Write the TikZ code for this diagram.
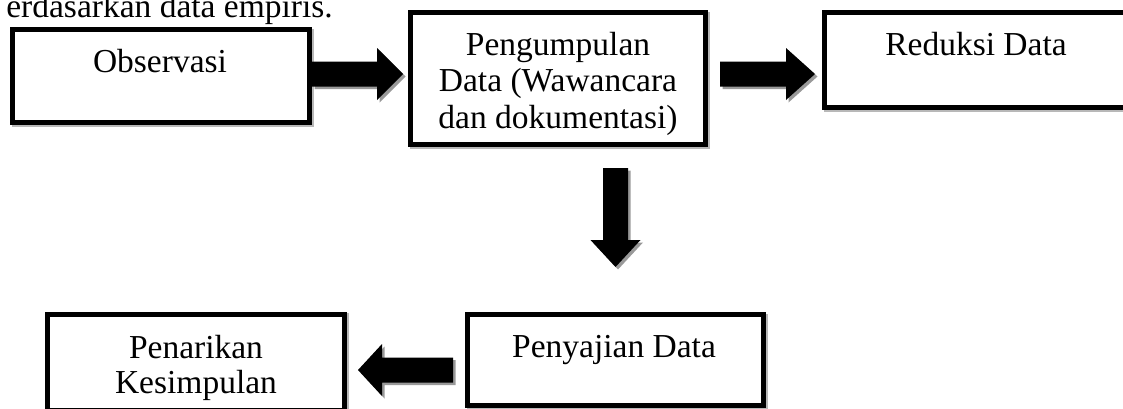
\documentclass[tikz,border=0pt]{standalone}
\usepackage{fontspec}
\setmainfont{Liberation Serif}
\usetikzlibrary{calc}
\definecolor{shadowgray}{gray}{0.6}
\newcommand\harrow[4]{% #1 start, #2 tip, #3 sign (1 right, -1 left), #4 head length
  \fill[shadowgray, transform canvas={shift={(2.5,2.5)}}] ($(#1)+(0,-12.5)$) -- ($(#2)+(-#4*#3,-12.5)$) -- ($(#2)+(-#4*#3,-26)$) -- (#2) -- ($(#2)+(-#4*#3,26)$) -- ($(#2)+(-#4*#3,12.5)$) -- ($(#1)+(0,12.5)$) -- cycle;
  \fill[black] ($(#1)+(0,-12.5)$) -- ($(#2)+(-#4*#3,-12.5)$) -- ($(#2)+(-#4*#3,-26)$) -- (#2) -- ($(#2)+(-#4*#3,26)$) -- ($(#2)+(-#4*#3,12.5)$) -- ($(#1)+(0,12.5)$) -- cycle;}
\newcommand\varrow[3]{% #1 start, #2 tip (downwards), #3 head length
  \fill[shadowgray, transform canvas={shift={(2.5,2.5)}}] ($(#1)+(-12.5,0)$) -- ($(#2)+(-12.5,-#3)$) -- ($(#2)+(-25,-#3)$) -- (#2) -- ($(#2)+(25,-#3)$) -- ($(#2)+(12.5,-#3)$) -- ($(#1)+(12.5,0)$) -- cycle;
  \fill[black] ($(#1)+(-12.5,0)$) -- ($(#2)+(-12.5,-#3)$) -- ($(#2)+(-25,-#3)$) -- (#2) -- ($(#2)+(25,-#3)$) -- ($(#2)+(12.5,-#3)$) -- ($(#1)+(12.5,0)$) -- cycle;}
\begin{document}
\begin{tikzpicture}[x=1pt,y=-1pt,
  box/.style={draw=black, line width=5pt, fill=white, inner sep=0pt,
    preaction={draw=shadowgray!70, line width=5pt, transform canvas={shift={(1.5,1.5)}}}},
  lbl/.style={inner sep=0pt, font=\fontsize{33.5}{36.5}\selectfont, align=center}]
\useasboundingbox (0,0) rectangle (1123,408);

% boxes
\node[box, minimum width=297pt, minimum height=93pt] (obs) at (161,76) {};
\node[box, minimum width=295pt, minimum height=132pt] (col) at (558,78.5) {};
\node[box, minimum width=308pt, minimum height=95pt] (red) at (978.5,60) {};
\node[box, minimum width=296pt, minimum height=91pt] (pen) at (615.5,360) {};
\node[box, minimum width=297pt, minimum height=96pt] (tar) at (196,362) {};

% texts
\node[lbl, anchor=base east] (top) at (333,17) {erdasarkan data empiris.};
\node[lbl, anchor=base] (obs-t) at (160,72) {Observasi};
\node[lbl, anchor=base] (col-t) at (558,128) {Pengumpulan\\Data (Wawancara\\dan dokumentasi)};
\node[lbl, anchor=base] (red-t) at (976,55) {Reduksi Data};
\node[lbl, anchor=base] (pen-t) at (614,357) {Penyajian Data};
\node[lbl, anchor=base, font=\fontsize{33.5}{35}\selectfont] (tar-t) at (196,393) {Penarikan\\Kesimpulan};

% connectors
\coordinate (r74) at (0,74);
\coordinate (r370) at (0,370);
\coordinate (a1s) at (obs.east |- r74);
\coordinate (a1t) at ($(col.west |- r74)+(-5,0)$);
\coordinate (a2s) at ($(col.east |- r74)+(12,0)$);
\coordinate (a2t) at ($(red.west |- r74)+(-7,0)$);
\coordinate (a3s) at ($(pen.north |- col.south)+(0,21)$);
\coordinate (a3t) at ($(pen.north)+(0,-45)$);
\coordinate (a4s) at ($(pen.west |- r370)+(-12,0)$);
\coordinate (a4t) at ($(tar.east |- r370)+(11,0)$);
\harrow{a1s}{a1t}{1}{26}
\harrow{a2s}{a2t}{1}{29}
\varrow{a3s}{a3t}{27}
\harrow{a4s}{a4t}{-1}{24}
\end{tikzpicture}
\end{document}
